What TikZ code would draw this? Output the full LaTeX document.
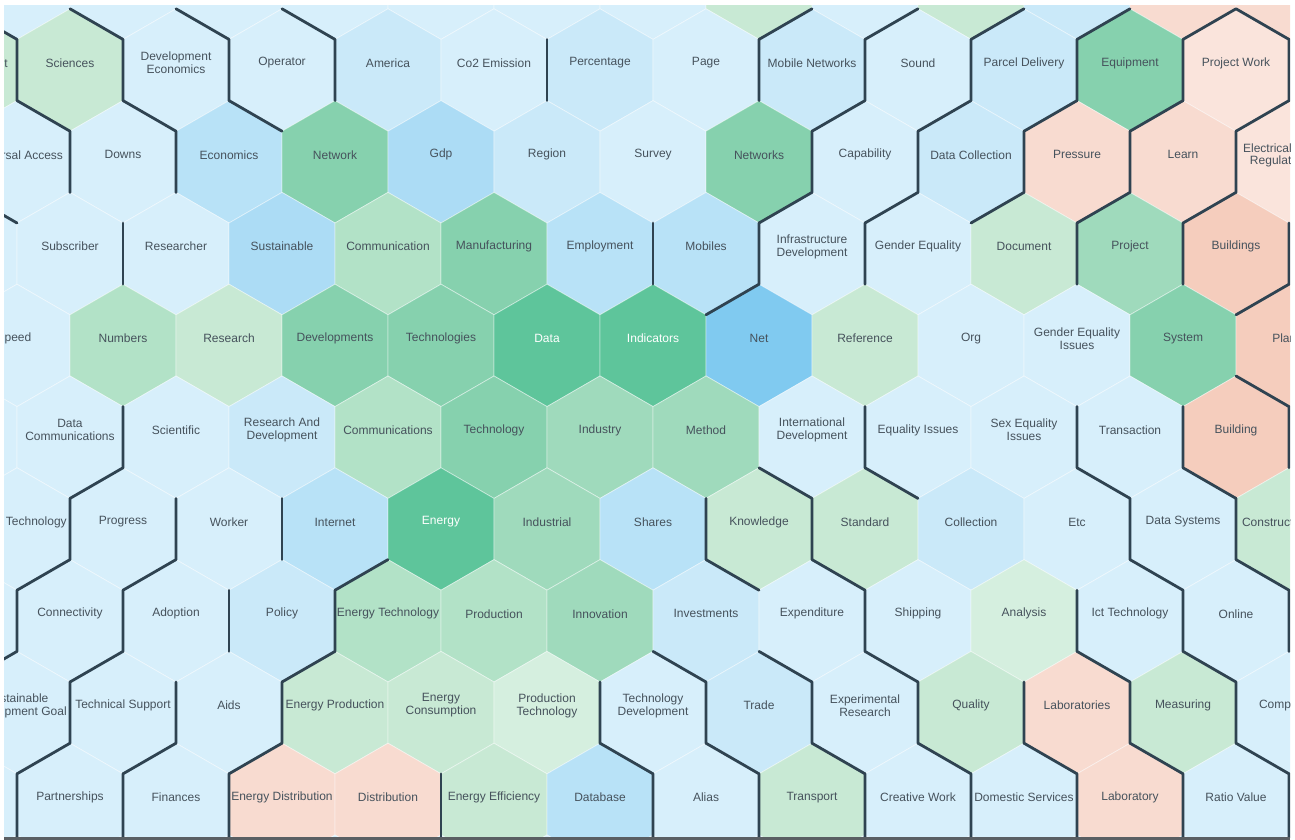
\documentclass[tikz,border=0pt]{standalone}
\usepackage{fontspec}
\setmainfont{Liberation Sans}
\definecolor{lb0}{HTML}{D7EFFB}
\definecolor{lb1}{HTML}{CAE9F9}
\definecolor{lb2}{HTML}{B8E2F7}
\definecolor{lb3}{HTML}{ACDCF5}
\definecolor{netb}{HTML}{80CAF0}
\definecolor{gl0}{HTML}{D5EFDF}
\definecolor{gl1}{HTML}{C8E9D4}
\definecolor{gl2}{HTML}{B2E2C7}
\definecolor{gl3}{HTML}{9FDABC}
\definecolor{gm}{HTML}{86D1AE}
\definecolor{gd}{HTML}{5EC59B}
\definecolor{sl0}{HTML}{FAE4DC}
\definecolor{sl1}{HTML}{F8DBD0}
\definecolor{sl2}{HTML}{F5CDBD}
\definecolor{txt}{HTML}{46525C}
\definecolor{bd}{HTML}{2F4351}
\definecolor{bottomline}{HTML}{5A5F63}
\tikzset{
  lbl/.style={font=\fontsize{12}{13}\selectfont, text=txt, align=center, inner sep=0pt},
  wlbl/.style={lbl, text=white},
  hexedge/.style={draw=white, draw opacity=0.45, line width=0.8pt},
  bline/.style={draw=bd, line width=2.8pt, line join=round, line cap=round}
}
% #1 = column j, #2 = centre level m, #3 = fill colour
\newcommand\hf[3]{\filldraw[fill=#3, hexedge] (#1,#2-2)--(#1+1,#2-1)--(#1+1,#2+1)--(#1,#2+2)--(#1-1,#2+1)--(#1-1,#2-1)--cycle;}
% #4 = label, #5 = label style
\newcommand\hx[5]{\hf{#1}{#2}{#3}\node[#5] (h#1m#2) at ([yshift=7pt]#1,#2) {#4};}
\begin{document}
\begin{tikzpicture}[x=1pt,y=-1pt]
\useasboundingbox (0,0) rectangle (1295,840);
\fill[white] (0,0) rectangle (1295,840);
\begin{scope}
\clip (4,6) rectangle (1290,837);
\fill[lb0] (4,6) rectangle (1290,837);
\begin{scope}[shift={(17,8.8)}, x={(53pt,0pt)}, y={(0pt,-30.6pt)}]
% row -1
\foreach \j/\c in {0/lb0,2/lb0,4/lb0,6/lb0,8/lb0,10/lb0,12/lb0,14/gl1,16/lb0,18/gl1,20/lb1,22/sl1,24/sl1} {\hf{\j}{-1}{\c}}
% row 0
\hf{-1}{2}{gl1}
\node[lbl, anchor=east] (h0fr) at ([yshift=7pt]-0.17,2) {Internet};
\hx{1}{2}{gl1}{Sciences}{lbl}
\hx{3}{2}{lb0}{Development\\Economics}{lbl}
\hx{5}{2}{lb0}{Operator}{lbl}
\hx{7}{2}{lb1}{America}{lbl}
\hx{9}{2}{lb0}{Co2 Emission}{lbl}
\hx{11}{2}{lb1}{Percentage}{lbl}
\hx{13}{2}{lb0}{Page}{lbl}
\hx{15}{2}{lb1}{Mobile Networks}{lbl}
\hx{17}{2}{lb0}{Sound}{lbl}
\hx{19}{2}{lb1}{Parcel Delivery}{lbl}
\hx{21}{2}{gm}{Equipment}{lbl}
\hx{23}{2}{sl0}{Project Work}{lbl}
% row 1
\hx{0}{5}{lb0}{Universal Access}{lbl}
\hx{2}{5}{lb0}{Downs}{lbl}
\hx{4}{5}{lb2}{Economics}{lbl}
\hx{6}{5}{gm}{Network}{lbl}
\hx{8}{5}{lb3}{Gdp}{lbl}
\hx{10}{5}{lb1}{Region}{lbl}
\hx{12}{5}{lb0}{Survey}{lbl}
\hx{14}{5}{gm}{Networks}{lbl}
\hx{16}{5}{lb0}{Capability}{lbl}
\hx{18}{5}{lb1}{Data Collection}{lbl}
\hx{20}{5}{sl1}{Pressure}{lbl}
\hx{22}{5}{sl1}{Learn}{lbl}
\hf{24}{5}{sl0}
\node[lbl, anchor=west] (h24m5a) at ([yshift=13.5pt]23.13,5) {Electrical};
\node[lbl, anchor=west] (h24m5b) at ([yshift=0.5pt]23.26,5) {Regulations};
% row 2
\hf{-1}{8}{lb0}
\hx{1}{8}{lb0}{Subscriber}{lbl}
\hx{3}{8}{lb0}{Researcher}{lbl}
\hx{5}{8}{lb3}{Sustainable}{lbl}
\hx{7}{8}{gl2}{Communication}{lbl}
\hx{9}{8}{gm}{Manufacturing}{lbl}
\hx{11}{8}{lb2}{Employment}{lbl}
\hx{13}{8}{lb2}{Mobiles}{lbl}
\hx{15}{8}{lb0}{Infrastructure\\Development}{lbl}
\hx{17}{8}{lb0}{Gender Equality}{lbl}
\hx{19}{8}{gl1}{Document}{lbl}
\hx{21}{8}{gl3}{Project}{lbl}
\hx{23}{8}{sl2}{Buildings}{lbl}
% row 3
\hf{0}{11}{lb0}
\node[lbl] (h0m11) at ([yshift=7pt, xshift=-3pt]0,11) {Speed};
\hx{2}{11}{gl2}{Numbers}{lbl}
\hx{4}{11}{gl1}{Research}{lbl}
\hx{6}{11}{gm}{Developments}{lbl}
\hx{8}{11}{gm}{Technologies}{lbl}
\hx{10}{11}{gd}{Data}{wlbl}
\hx{12}{11}{gd}{Indicators}{wlbl}
\hx{14}{11}{netb}{Net}{lbl}
\hx{16}{11}{gl1}{Reference}{lbl}
\hx{18}{11}{lb0}{Org}{lbl}
\hx{20}{11}{lb0}{Gender Equality\\Issues}{lbl}
\hx{22}{11}{gm}{System}{lbl}
\hf{24}{11}{sl2}
\node[lbl, anchor=west] (h24m11) at ([yshift=7pt]23.68,11) {Plants};
% row 4
\hf{-1}{14}{lb0}
\hx{1}{14}{lb0}{Data\\Communications}{lbl}
\hx{3}{14}{lb0}{Scientific}{lbl}
\hx{5}{14}{lb1}{Research And\\Development}{lbl}
\hx{7}{14}{gl2}{Communications}{lbl}
\hx{9}{14}{gm}{Technology}{lbl}
\hx{11}{14}{gl3}{Industry}{lbl}
\hx{13}{14}{gl3}{Method}{lbl}
\hx{15}{14}{lb0}{International\\Development}{lbl}
\hx{17}{14}{lb0}{Equality Issues}{lbl}
\hx{19}{14}{lb0}{Sex Equality\\Issues}{lbl}
\hx{21}{14}{lb0}{Transaction}{lbl}
\hx{23}{14}{sl2}{Building}{lbl}
% row 5
\hx{0}{17}{lb0}{Mobile Technology}{lbl}
\hx{2}{17}{lb0}{Progress}{lbl}
\hx{4}{17}{lb0}{Worker}{lbl}
\hx{6}{17}{lb2}{Internet}{lbl}
\hx{8}{17}{gd}{Energy}{wlbl}
\hx{10}{17}{gl3}{Industrial}{lbl}
\hx{12}{17}{lb2}{Shares}{lbl}
\hx{14}{17}{gl1}{Knowledge}{lbl}
\hx{16}{17}{gl1}{Standard}{lbl}
\hx{18}{17}{lb1}{Collection}{lbl}
\hx{20}{17}{lb0}{Etc}{lbl}
\hx{22}{17}{lb0}{Data Systems}{lbl}
\hf{24}{17}{gl1}
\node[lbl, anchor=west] (h24m17) at ([yshift=7pt]23.11,17) {Construction};
% row 6
\hf{-1}{20}{lb0}
\hx{1}{20}{lb0}{Connectivity}{lbl}
\hx{3}{20}{lb0}{Adoption}{lbl}
\hx{5}{20}{lb1}{Policy}{lbl}
\hx{7}{20}{gl2}{Energy Technology}{lbl}
\hx{9}{20}{gl2}{Production}{lbl}
\hx{11}{20}{gl3}{Innovation}{lbl}
\hx{13}{20}{lb1}{Investments}{lbl}
\hx{15}{20}{lb0}{Expenditure}{lbl}
\hx{17}{20}{lb0}{Shipping}{lbl}
\hx{19}{20}{gl0}{Analysis}{lbl}
\hx{21}{20}{lb0}{Ict Technology}{lbl}
\hx{23}{20}{lb0}{Online}{lbl}
% row 7
\hx{0}{23}{lb0}{Sustainable\\Development Goal}{lbl}
\hx{2}{23}{lb0}{Technical Support}{lbl}
\hx{4}{23}{lb0}{Aids}{lbl}
\hx{6}{23}{gl1}{Energy Production}{lbl}
\hx{8}{23}{gl1}{Energy\\Consumption}{lbl}
\hx{10}{23}{gl0}{Production\\Technology}{lbl}
\hx{12}{23}{lb0}{Technology\\Development}{lbl}
\hx{14}{23}{lb1}{Trade}{lbl}
\hx{16}{23}{lb0}{Experimental\\Research}{lbl}
\hx{18}{23}{gl1}{Quality}{lbl}
\hx{20}{23}{sl1}{Laboratories}{lbl}
\hx{22}{23}{gl1}{Measuring}{lbl}
\hf{24}{23}{lb0}
\node[lbl, anchor=west] (h24m23) at ([yshift=7pt]23.43,23) {Computer};
% row 8
\hf{-1}{26}{lb0}
\hx{1}{26}{lb0}{Partnerships}{lbl}
\hx{3}{26}{lb0}{Finances}{lbl}
\hx{5}{26}{sl1}{Energy Distribution}{lbl}
\hx{7}{26}{sl1}{Distribution}{lbl}
\hx{9}{26}{gl1}{Energy Efficiency}{lbl}
\hx{11}{26}{lb2}{Database}{lbl}
\hx{13}{26}{lb0}{Alias}{lbl}
\hx{15}{26}{gl1}{Transport}{lbl}
\hx{17}{26}{lb0}{Creative Work}{lbl}
\hx{19}{26}{lb0}{Domestic Services}{lbl}
\hx{21}{26}{sl1}{Laboratory}{lbl}
\hx{23}{26}{lb0}{Ratio Value}{lbl}
% row 9
\foreach \j in {0,2,...,24} {\hf{\j}{29}{lb0}}
% cluster borders
\draw[bline] (-1,0)--(0,1)--(0,3)--(1,4)--(1,6);
\draw[bline] (1,0)--(2,1)--(2,3)--(3,4)--(3,6);
\draw[bline] (3,0)--(4,1)--(4,3)--(5,4);
\draw[bline] (5,0)--(6,1)--(6,3);
\draw[bline] (-1,6)--(0,7);
\draw[bline] (2,7)--(2,9);
\draw[bline] (10,1)--(10,3);
\draw[bline] (15,0)--(14,1)--(14,3);
\draw[bline] (17,0)--(16,1)--(16,3)--(15,4)--(15,6)--(14,7)--(14,9)--(13,10);
\draw[bline] (19,0)--(18,1)--(18,3)--(17,4)--(17,6)--(16,7)--(16,9);
\draw[bline] (12,7)--(12,9);
\draw[bline] (21,0)--(20,1)--(20,3)--(19,4)--(19,6)--(18,7);
\draw[bline] (22,9)--(22,7)--(23,6)--(23,4)--(24,3)--(24,1)--(23,0)--(22,1)--(22,3)--(21,4)--(21,6)--(20,7)--(20,9);
\draw[bline] (24,7)--(24,9)--(23,10);
\draw[bline] (23,12)--(24,13)--(24,15);
\draw[bline] (20,13)--(20,15)--(21,16)--(21,18)--(22,19)--(22,21)--(23,22)--(23,24)--(24,25)--(24,27.2);
\draw[bline] (22,13)--(22,15)--(23,16)--(23,18)--(24,19)--(24,21);
\draw[bline] (16,13)--(16,15)--(17,16);
\draw[bline] (14,15)--(15,16)--(15,18)--(16,19)--(16,21)--(17,22)--(17,24)--(18,25)--(18,27.2);
\draw[bline] (13,16)--(13,18)--(14,19);
\draw[bline] (12,21)--(13,22)--(13,24)--(14,25)--(14,27.2);
\draw[bline] (14,21)--(15,22)--(15,24)--(16,25)--(16,27.2);
\draw[bline] (11,22)--(11,24)--(12,25)--(12,27.2);
\draw[bline] (7,18)--(6,19)--(6,21)--(5,22)--(5,24)--(4,25)--(4,27.2);
\draw[bline] (8,25)--(8,27.2);
\draw[bline] (2,13)--(2,15)--(1,16)--(1,18)--(0,19)--(0,21)--(-1,22);
\draw[bline] (3,16)--(3,18)--(2,19)--(2,21)--(1,22)--(1,24)--(0,25)--(0,27.2);
\draw[bline] (4,19)--(4,21);
\draw[bline] (3,22)--(3,24)--(2,25)--(2,27.2);
\draw[bline] (5,16)--(5,18);
\draw[bline] (20,19)--(20,21)--(21,22)--(21,24)--(22,25)--(22,27.2);
\draw[bline] (19,22)--(19,24)--(20,25)--(20,27.2);
\end{scope}
\end{scope}
\fill[bottomline] (4,837) rectangle (1290,840);
\end{tikzpicture}
\end{document}
